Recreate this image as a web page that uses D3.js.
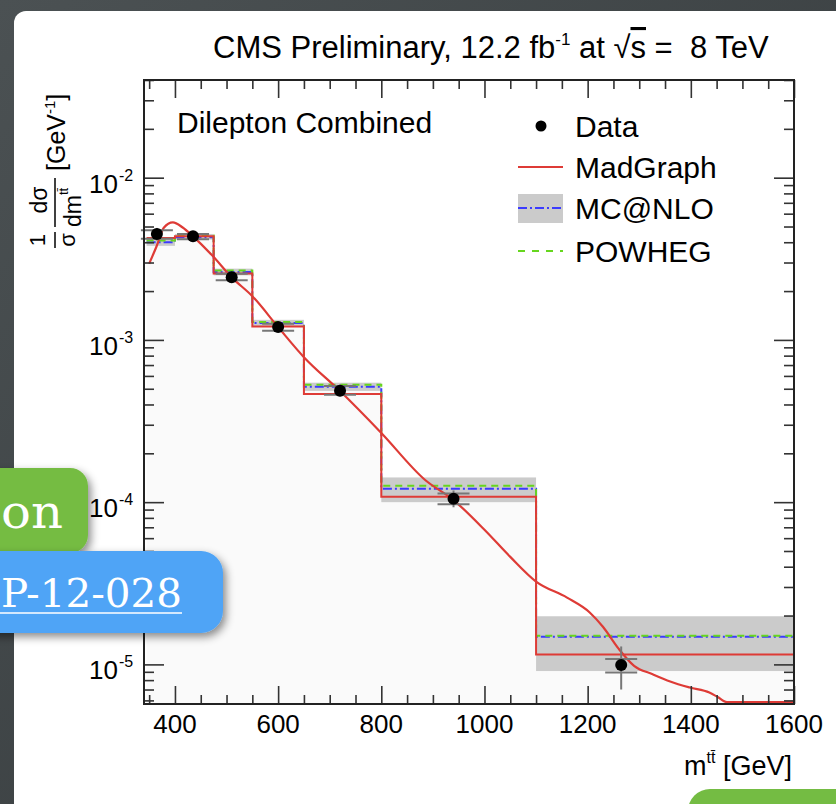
<!DOCTYPE html>
<html>
<head>
<meta charset="utf-8">
<script src="https://cdn.jsdelivr.net/npm/d3@7"></script>
<style>
  html, body { margin: 0; padding: 0; background: #3f4446; }
  svg { display: block; }
</style>
</head>
<body>
<svg id="chart" width="836" height="804"></svg>
<script>
// ttbar invariant mass, dilepton channel
const binEdges = [345, 400, 475, 550, 650, 800, 1100, 1600];
const madgraphHist = [4.25e-3, 4.35e-3, 2.57e-3, 1.21e-3, 4.64e-4, 1.08e-4, 1.15e-5];
const mcatnloHist = [4.0e-3, 4.3e-3, 2.62e-3, 1.27e-3, 5.14e-4, 1.21e-4, 1.48e-5];
const mcatnloLow = [3.8e-3, 4.15e-3, 2.5e-3, 1.21e-3, 4.85e-4, 1.0e-4, 9.1e-6];
const mcatnloHigh = [4.25e-3, 4.5e-3, 2.75e-3, 1.33e-3, 5.45e-4, 1.42e-4, 1.98e-5];
const powhegHist = [4.1e-3, 4.4e-3, 2.68e-3, 1.29e-3, 5.3e-4, 1.26e-4, 1.5e-5];

const dataX = [365, 435, 510, 600, 720, 940, 1265];
const dataY = [4.5e-3, 4.35e-3, 2.43e-3, 1.2e-3, 4.86e-4, 1.05e-4, 9.9e-6];
const statLow = [4.2e-3, 4.18e-3, 2.33e-3, 1.14e-3, 4.6e-4, 9.7e-5, 8.9e-6];
const statHigh = [4.75e-3, 4.5e-3, 2.56e-3, 1.26e-3, 5.2e-4, 1.13e-4, 1.08e-5];
const totalLow = [4.1e-3, 4.1e-3, 2.28e-3, 1.12e-3, 4.5e-4, 9.3e-5, 7.0e-6];
const totalHigh = [4.9e-3, 4.6e-3, 2.6e-3, 1.28e-3, 5.3e-4, 1.18e-4, 1.29e-5];

// smooth MadGraph prediction
const curveX = [350, 365, 378, 396, 415, 435, 472, 510, 550, 600, 650, 720, 800, 885, 940, 1000, 1050, 1100, 1160, 1204, 1230, 1260, 1290, 1326, 1360, 1398, 1436, 1452, 1470, 1600];
const curveY = [2.95e-3, 3.82e-3, 4.9e-3, 5.3e-3, 4.93e-3, 4.35e-3, 3.32e-3, 2.43e-3, 1.86e-3, 1.2e-3, 7.83e-4, 4.84e-4, 2.67e-4, 1.37e-4, 1.03e-4, 6.76e-5, 4.6e-5, 3.24e-5, 2.58e-5, 2.09e-5, 1.7e-5, 1.25e-5, 9.8e-6, 8.7e-6, 7.85e-6, 7.2e-6, 6.7e-6, 6.3e-6, 5.5e-6, 5.5e-6];

const xTickLabels = [400, 600, 800, 1000, 1200, 1400, 1600];
const yTickExponents = [-2, -3, -4, -5];
const legendLabels = ["Data", "MadGraph", "MC@NLO", "POWHEG"];

const font = "'Liberation Sans', Arial, Helvetica, sans-serif";
const colors = { red: "#de3b36", blue: "#3b3bff", green: "#66d61e", band: "#cbcbcb", axis: "#333" };

const svg = d3.select("#chart");
const width = 836, height = 804;

const defs = svg.append("defs");
const bg = defs.append("linearGradient").attr("id", "bg")
  .attr("x1", 0).attr("y1", 0).attr("x2", 1).attr("y2", 1);
bg.append("stop").attr("offset", "0%").attr("stop-color", "#4b5153");
bg.append("stop").attr("offset", "100%").attr("stop-color", "#33383a");
const shadow = defs.append("filter").attr("id", "shadow")
  .attr("x", "-20%").attr("y", "-30%").attr("width", "150%").attr("height", "170%");
shadow.append("feDropShadow").attr("dx", 3).attr("dy", 4).attr("stdDeviation", 4)
  .attr("flood-color", "#000").attr("flood-opacity", 0.45);

// slide
svg.append("rect").attr("width", width).attr("height", height).attr("fill", "url(#bg)");
svg.append("rect").attr("x", 14).attr("y", 11).attr("width", width).attr("height", height + 20)
  .attr("rx", 12).attr("fill", "#fff");

// plot frame
const x = d3.scaleLinear().domain([340, 1600]).range([144, 794]);
const y = d3.scaleLog().domain([5.7e-6, 0.04]).range([704, 80]);
const yClamped = y.copy().clamp(true);
const [x0, x1] = x.range();
const [y0, y1] = y.range();

defs.append("clipPath").attr("id", "plotClip")
  .append("rect").attr("x", x0).attr("y", y1).attr("width", x1 - x0).attr("height", y0 - y1);

const plot = svg.append("g").attr("clip-path", "url(#plotClip)");

const stepPoints = (vals) => binEdges.map((e, i) => [e, vals[Math.min(i, vals.length - 1)]]);

plot.append("path")
  .attr("d", d3.area().curve(d3.curveStepAfter)
    .x(d => x(d[0])).y0(y0).y1(d => y(d[1]))(stepPoints(mcatnloHist)))
  .attr("fill", "#fafafa");

plot.selectAll("rect.band")
  .data(mcatnloHist)
  .join("rect")
  .attr("class", "band")
  .attr("x", (d, i) => x(binEdges[i]))
  .attr("width", (d, i) => x(binEdges[i + 1]) - x(binEdges[i]))
  .attr("y", (d, i) => y(mcatnloHigh[i]))
  .attr("height", (d, i) => y(mcatnloLow[i]) - y(mcatnloHigh[i]))
  .attr("fill", colors.band);

const stepLine = d3.line().curve(d3.curveStepAfter).x(d => x(d[0])).y(d => y(d[1]));

plot.append("path").attr("d", stepLine(stepPoints(mcatnloHist)))
  .attr("fill", "none").attr("stroke", colors.blue).attr("stroke-width", 2)
  .attr("stroke-dasharray", "9,3,2,3");
plot.append("path").attr("d", stepLine(stepPoints(powhegHist)))
  .attr("fill", "none").attr("stroke", colors.green).attr("stroke-width", 2)
  .attr("stroke-dasharray", "7,5");
plot.append("path").attr("d", stepLine(stepPoints(madgraphHist)))
  .attr("fill", "none").attr("stroke", colors.red).attr("stroke-width", 2);

// below the frame the curve runs along the bottom edge
const curve = d3.line().curve(d3.curveMonotoneX)
  .x(d => x(d)).y((d, i) => Math.min(yClamped(curveY[i]), y0 - 2));
plot.append("path").attr("d", curve(curveX))
  .attr("fill", "none").attr("stroke", colors.red).attr("stroke-width", 2.2);

// data with errors
const points = svg.append("g");
points.selectAll("line.tot")
  .data(dataX)
  .join("line")
  .attr("x1", d => x(d)).attr("x2", d => x(d))
  .attr("y1", (d, i) => y(totalHigh[i])).attr("y2", (d, i) => y(totalLow[i]))
  .attr("stroke", "#777").attr("stroke-width", 2);
[statLow, statHigh].forEach(arr => {
  points.selectAll(null)
    .data(dataX)
    .join("line")
    .attr("x1", d => x(d) - 16).attr("x2", d => x(d) + 16)
    .attr("y1", (d, i) => y(arr[i])).attr("y2", (d, i) => y(arr[i]))
    .attr("stroke", "#777").attr("stroke-width", 2);
});
points.selectAll("circle")
  .data(dataX)
  .join("circle")
  .attr("cx", d => x(d)).attr("cy", (d, i) => y(dataY[i]))
  .attr("r", 6).attr("fill", "#000");

// axes: ticks point inwards
const xMinor = d3.range(350, 1601, 50).filter(v => !xTickLabels.includes(v));
const yMinor = [];
for (let e = -6; e <= -2; e++) {
  for (let m = 2; m <= 9; m++) {
    const v = m * Math.pow(10, e);
    if (v >= y.domain()[0] && v <= y.domain()[1]) yMinor.push(v);
  }
}
const yMajor = yTickExponents.map(e => Math.pow(10, e));

function addAxis(axis, transform) {
  const g = svg.append("g").attr("transform", transform).call(axis);
  g.select(".domain").remove();
  g.selectAll("line").attr("stroke", colors.axis).attr("stroke-width", 1.6);
  g.selectAll("text").remove();
  return g;
}

addAxis(d3.axisBottom(x).tickValues(xTickLabels).tickSize(-18), `translate(0,${y0})`);
addAxis(d3.axisBottom(x).tickValues(xMinor).tickSize(-9), `translate(0,${y0})`);
addAxis(d3.axisTop(x).tickValues(xTickLabels).tickSize(-18), `translate(0,${y1})`);
addAxis(d3.axisTop(x).tickValues(xMinor).tickSize(-9), `translate(0,${y1})`);
addAxis(d3.axisLeft(y).tickValues(yMajor).tickSize(-20), `translate(${x0},0)`);
addAxis(d3.axisLeft(y).tickValues(yMinor).tickSize(-10), `translate(${x0},0)`);
addAxis(d3.axisRight(y).tickValues(yMajor).tickSize(-20), `translate(${x1},0)`);
addAxis(d3.axisRight(y).tickValues(yMinor).tickSize(-10), `translate(${x1},0)`);

svg.append("rect")
  .attr("x", x0).attr("y", y1).attr("width", x1 - x0).attr("height", y0 - y1)
  .attr("fill", "none").attr("stroke", "#222").attr("stroke-width", 2);

// tick labels
svg.append("g").selectAll("text")
  .data(xTickLabels)
  .join("text")
  .attr("x", d => x(d)).attr("y", 733)
  .attr("text-anchor", "middle")
  .attr("font-family", font).attr("font-size", 26)
  .text(d => d);

const yLabels = svg.append("g").attr("font-family", font);
yLabels.selectAll("text.base")
  .data(yTickExponents)
  .join("text")
  .attr("x", 118).attr("y", d => y(Math.pow(10, d)) + 15)
  .attr("text-anchor", "end").attr("font-size", 26)
  .text("10");
yLabels.selectAll("text.exp")
  .data(yTickExponents)
  .join("text")
  .attr("x", 119).attr("y", d => y(Math.pow(10, d)) + 3)
  .attr("font-size", 16)
  .text(d => d);

// title
const title = svg.append("text")
  .attr("x", 213).attr("y", 58)
  .attr("font-family", font).attr("font-size", 31);
title.append("tspan").text("CMS Preliminary, 12.2 fb");
title.append("tspan").attr("font-size", 17).attr("dy", -13).text("-1");
title.append("tspan").attr("dy", 13).text(" at ");
title.append("tspan").text("\u221A");
title.append("tspan").style("text-decoration", "overline").text("s");
title.append("tspan").text(" =\u00A0 8 TeV");

// x axis title
const xTitle = svg.append("text")
  .attr("x", 792).attr("y", 775).attr("text-anchor", "end")
  .attr("font-family", font).attr("font-size", 27);
xTitle.append("tspan").text("m");
xTitle.append("tspan").attr("font-size", 16).attr("dy", -12).text("tt\u0304");
xTitle.append("tspan").attr("dy", 12).text(" [GeV]");

// y axis title, rotated
const yTitle = svg.append("g").attr("transform", "translate(55,250) rotate(-90)")
  .attr("font-family", font);
yTitle.append("text").attr("x", 10).attr("y", -10).attr("text-anchor", "middle")
  .attr("font-size", 22).text("1");
yTitle.append("line").attr("x1", 2).attr("x2", 18).attr("y1", 0).attr("y2", 0)
  .attr("stroke", "#000").attr("stroke-width", 1.5);
yTitle.append("text").attr("x", 10).attr("y", 20).attr("text-anchor", "middle")
  .attr("font-size", 22).text("\u03C3");
yTitle.append("text").attr("x", 50).attr("y", -8).attr("text-anchor", "middle")
  .attr("font-size", 23).text("d\u03C3");
yTitle.append("line").attr("x1", 23).attr("x2", 72).attr("y1", 0).attr("y2", 0)
  .attr("stroke", "#000").attr("stroke-width", 1.5);
const dm = yTitle.append("text").attr("x", 23).attr("y", 26).attr("font-size", 23);
dm.append("tspan").text("dm");
dm.append("tspan").attr("font-size", 13).attr("dy", -13).text("tt\u0304");
const unit = yTitle.append("text").attr("x", 79).attr("y", 10).attr("font-size", 25);
unit.append("tspan").text("[GeV");
unit.append("tspan").attr("font-size", 15).attr("dy", -10).text("-1");
unit.append("tspan").attr("dy", 10).text("]");

// labels inside frame
svg.append("text").attr("x", 177).attr("y", 133)
  .attr("font-family", font).attr("font-size", 30)
  .text("Dilepton Combined");

const legend = svg.append("g").attr("font-family", font).attr("font-size", 30);
const legendY = [126, 167, 208, 251];
legend.selectAll("text")
  .data(legendLabels)
  .join("text")
  .attr("x", 575).attr("y", (d, i) => legendY[i] + 11)
  .text(d => d);
legend.append("circle").attr("cx", 541).attr("cy", legendY[0]).attr("r", 5.5).attr("fill", "#000");
legend.append("line").attr("x1", 518).attr("x2", 563).attr("y1", legendY[1]).attr("y2", legendY[1])
  .attr("stroke", colors.red).attr("stroke-width", 2.2);
legend.append("rect").attr("x", 518).attr("y", legendY[2] - 14).attr("width", 45).attr("height", 29)
  .attr("fill", colors.band);
legend.append("line").attr("x1", 518).attr("x2", 563).attr("y1", legendY[2]).attr("y2", legendY[2])
  .attr("stroke", colors.blue).attr("stroke-width", 2).attr("stroke-dasharray", "9,3,2,3");
legend.append("line").attr("x1", 518).attr("x2", 563).attr("y1", legendY[3]).attr("y2", legendY[3])
  .attr("stroke", colors.green).attr("stroke-width", 2).attr("stroke-dasharray", "7,7");

// slide callouts
const serif = "'DejaVu Serif', 'Liberation Serif', serif";
svg.append("rect").attr("x", -30).attr("y", 468).attr("width", 118).attr("height", 85)
  .attr("rx", 18).attr("fill", "#74bc43").attr("filter", "url(#shadow)");
svg.append("text").attr("x", 1).attr("y", 528)
  .attr("font-family", serif).attr("font-size", 46).attr("fill", "#fff")
  .attr("textLength", 62).attr("lengthAdjust", "spacingAndGlyphs")
  .text("on");

svg.append("rect").attr("x", -30).attr("y", 551).attr("width", 253).attr("height", 82)
  .attr("rx", 22).attr("fill", "#4fa4f6").attr("filter", "url(#shadow)");
svg.append("text").attr("x", 1).attr("y", 607)
  .attr("font-family", serif).attr("font-size", 40).attr("fill", "#fff")
  .attr("textLength", 181).attr("lengthAdjust", "spacingAndGlyphs")
  .text("P-12-028");
svg.append("line").attr("x1", 0).attr("x2", 182).attr("y1", 613).attr("y2", 613)
  .attr("stroke", "#fff").attr("stroke-width", 1.5);

svg.append("rect").attr("x", 688).attr("y", 789).attr("width", 200).attr("height", 60)
  .attr("rx", 22).attr("fill", "#74bc43");
</script>
</body>
</html>
